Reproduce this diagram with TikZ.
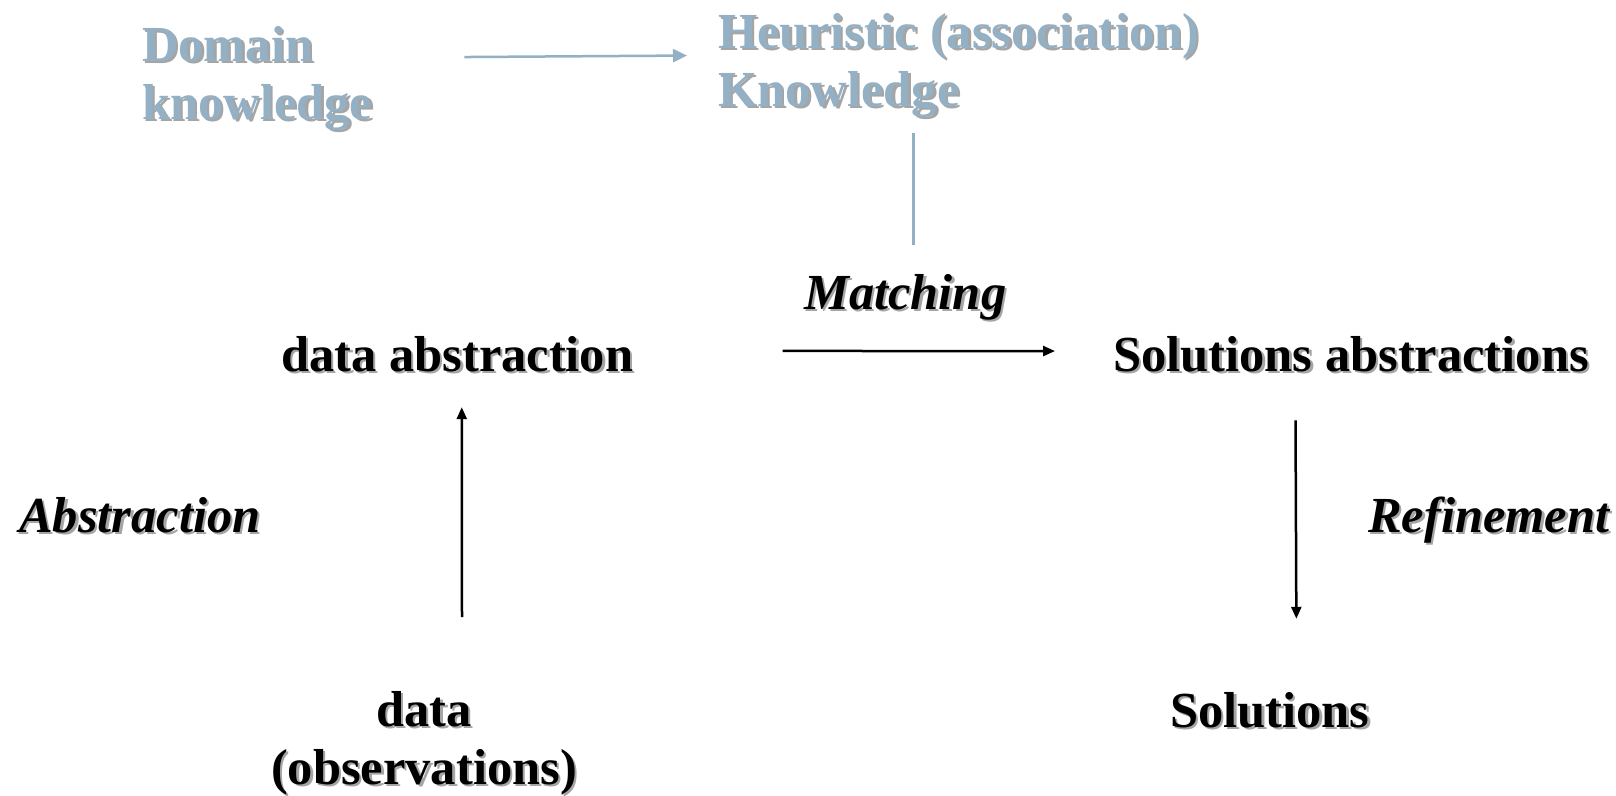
\documentclass[tikz,border=0pt]{standalone}
\usepackage{fontspec}
\setmainfont{Liberation Serif}
\usetikzlibrary{arrows.meta}
\definecolor{kblue}{RGB}{148,176,196}
\definecolor{shadowc}{RGB}{165,165,165}
\newcommand\shd[1]{\leavevmode\rlap{\kern2.5pt\raisebox{-2.5pt}{\color{shadowc}#1}}#1}
\tikzset{
  lbl/.style={inner sep=0pt, font=\fontsize{50.5}{58}\selectfont\bfseries, align=left},
  ilbl/.style={lbl, font=\fontsize{50.5}{58}\selectfont\bfseries\itshape},
  blbl/.style={lbl, text=kblue},
  arr/.style={line width=2.5pt, -{Triangle[length=12pt,width=10pt]}},
  barr/.style={line width=2.5pt, draw=kblue, -{Triangle[length=14pt,width=13pt]}, kblue},
  bline/.style={line width=2.5pt, draw=kblue}
}
\begin{document}
\begin{tikzpicture}[x=1pt,y=-1pt]
\useasboundingbox (0,0) rectangle (1616,795);
\node[blbl, anchor=north west] (dk) at (142,26) {\shd{Domain}\\\shd{knowledge}};
\node[blbl, anchor=north west] (hk) at (718,13) {\shd{Heuristic (association)}\\\shd{Knowledge}};
\node[ilbl, anchor=base west] (match) at (804,309) {\shd{Matching}};
\node[lbl, anchor=base west] (da) at (281,371) {\shd{data abstraction}};
\node[lbl, anchor=base west] (sa) at (1113,371) {\shd{Solutions abstractions}};
\node[ilbl, anchor=base west] (abs) at (19,532) {\shd{Abstraction}};
\node[ilbl, anchor=base west] (ref) at (1368,532) {\shd{Refinement}};
\node[lbl, anchor=north, align=center] (obs) at (424,691) {\shd{data}\\\shd{(observations)}};
\node[lbl, anchor=base west] (sol) at (1170,727) {\shd{Solutions}};

\draw[barr] ([xshift=92pt,yshift=22.5pt]dk.east) -- ([xshift=-31pt,yshift=11pt]hk.west);
\draw[bline] ([xshift=-45.5pt,yshift=-13pt]hk.south) -- ++(0,112);
\draw[arr] ([xshift=149pt,yshift=4pt]da.east) -- ([xshift=-58pt,yshift=4pt]sa.west);
\draw[arr] ([xshift=38pt,yshift=74pt]obs.north) -- ([xshift=4.5pt,yshift=-33pt]da.south);
\draw[arr] ([xshift=-55.5pt,yshift=-46pt]sa.south) -- ([xshift=26.5pt,yshift=73pt]sol.north);
\end{tikzpicture}
\end{document}
